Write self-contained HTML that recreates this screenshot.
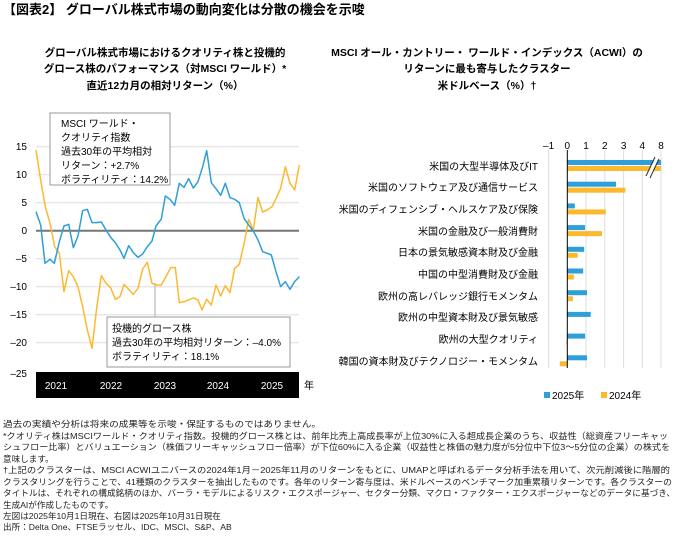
<!DOCTYPE html>
<html><head><meta charset="utf-8"><style>
body{margin:0;background:#fff;width:680px;height:542px;overflow:hidden;font-family:"Liberation Sans","Noto Sans CJK JP",sans-serif;}
svg text{font-family:"Liberation Sans","Noto Sans CJK JP",sans-serif;}
</style></head><body>
<svg width="680" height="542" style="position:absolute;left:0;top:0">
<text x="3" y="14" font-size="13" font-weight="bold" fill="#000">【図表2】 グローバル株式市場の動向変化は分散の機会を示唆</text>
<g font-size="10.5" font-weight="bold" text-anchor="middle" fill="#000">
<text x="165" y="56">グローバル株式市場におけるクオリティ株と投機的</text>
<text x="165" y="72">グロース株のパフォーマンス（対MSCI ワールド）*</text>
<text x="165" y="89">直近12カ月の相対リターン（%）</text>
<text x="487" y="56">MSCI オール・カントリー・ ワールド・インデックス（ACWI）の</text>
<text x="487" y="72">リターンに最も寄与したクラスター</text>
<text x="487" y="89">米ドルベース（%）†</text>
</g>
<g stroke="#ddd" stroke-width="1">
<line x1="36" x2="299" y1="146.7" y2="146.7"/><line x1="36" x2="299" y1="174.7" y2="174.7"/>
<line x1="36" x2="299" y1="202.7" y2="202.7"/><line x1="36" x2="299" y1="258.7" y2="258.7"/>
<line x1="36" x2="299" y1="286.7" y2="286.7"/><line x1="36" x2="299" y1="314.7" y2="314.7"/>
<line x1="36" x2="299" y1="342.7" y2="342.7"/>
</g>
<line x1="36" x2="299" y1="230.7" y2="230.7" stroke="#777" stroke-width="2"/>
<g font-size="10" text-anchor="end" fill="#000">
<text x="27" y="150">15</text><text x="27" y="178">10</text><text x="27" y="206">5</text>
<text x="27" y="234">0</text><text x="27" y="262">–5</text><text x="27" y="290">–10</text>
<text x="27" y="318">–15</text><text x="27" y="346">–20</text><text x="27" y="377">–25</text>
</g>
<rect x="36" y="372" width="263" height="26" fill="#000"/>
<g font-size="10" fill="#fff" text-anchor="middle">
<text x="56" y="389">2021</text><text x="111" y="389">2022</text><text x="165" y="389">2023</text><text x="218" y="389">2024</text><text x="272" y="389">2025</text>
</g>
<text x="304" y="389" font-size="10" fill="#000">年</text>
<line x1="155" y1="283" x2="155" y2="317" stroke="#aaa" stroke-width="1"/>
<g transform="translate(0,100) scale(0.33333)" fill="none" stroke-width="4.5" stroke-linejoin="round">
<polyline stroke="#FDB92E" points="108,150 122,240 136,320 150,370 164,440 178,460 192,575 206,512 220,530 234,560 248,620 262,690 276,745 290,625 304,527 318,550 332,563 346,598 360,590 372,553 386,568 400,583 414,565 428,507 442,487 456,550 470,555 484,555 498,530 512,503 526,503 538,608 552,605 566,600 580,594 594,600 606,630 620,598 634,615 648,555 662,588 676,557 690,578 704,505 718,493 732,432 746,358 760,390 774,292 788,336 802,330 816,320 830,292 842,265 856,200 870,250 884,270 898,195"/>
<polyline stroke="#2E9FD8" points="108,335 122,375 135,490 150,478 163,490 178,425 192,378 206,373 220,443 234,408 248,332 262,328 276,368 290,368 304,366 318,390 332,412 346,428 360,450 372,475 386,437 400,458 414,472 428,462 442,440 456,423 468,378 484,357 496,288 510,298 524,316 538,250 552,262 566,236 580,264 594,245 608,200 620,152 634,248 648,266 662,286 676,250 690,293 704,298 718,308 732,355 746,375 760,393 774,420 788,455 802,460 814,465 828,515 842,560 856,545 870,568 884,545 898,530"/>
</g>
<rect x="50" y="113" width="120" height="72" fill="#fff" stroke="#999" stroke-width="1"/>
<g font-size="10" fill="#000">
<text x="61" y="127">MSCI ワールド・</text><text x="61" y="141">クオリティ指数</text>
<text x="61" y="155">過去30年の平均相対</text><text x="61" y="169">リターン：+2.7%</text>
<text x="61" y="183">ボラティリティ：14.2%</text>
</g>
<rect x="107" y="317" width="183" height="50" fill="#fff" stroke="#999" stroke-width="1"/>
<g font-size="10" fill="#000">
<text x="112" y="332">投機的グロース株</text>
<text x="112" y="346">過去30年の平均相対リターン：–4.0%</text>
<text x="112" y="360">ボラティリティ：18.1%</text>
</g>
<g stroke="#ddd" stroke-width="1">
<line x1="548.6" x2="548.6" y1="150" y2="368"/><line x1="586" x2="586" y1="150" y2="368"/>
<line x1="604.8" x2="604.8" y1="150" y2="368"/><line x1="623.6" x2="623.6" y1="150" y2="368"/>
<line x1="642.3" x2="642.3" y1="150" y2="368"/><line x1="661" x2="661" y1="150" y2="368"/>
</g>
<g font-size="10" text-anchor="middle" fill="#000">
<text x="548.6" y="149">–1</text><text x="567.3" y="149">0</text><text x="586" y="149">1</text>
<text x="604.8" y="149">2</text><text x="623.6" y="149">3</text><text x="642.3" y="149">4</text><text x="661" y="149">8</text>
</g>
<g>
<rect x="567.3" y="160" width="93.7" height="5" fill="#2E9FD8"/><rect x="567.3" y="166" width="93.7" height="5" fill="#FDB92E"/>
<rect x="567.3" y="181.7" width="48.7" height="5" fill="#2E9FD8"/><rect x="567.3" y="187.7" width="58.1" height="5" fill="#FDB92E"/>
<rect x="567.3" y="203.4" width="7.5" height="5" fill="#2E9FD8"/><rect x="567.3" y="209.4" width="38.4" height="5" fill="#FDB92E"/>
<rect x="567.3" y="225.1" width="17.8" height="5" fill="#2E9FD8"/><rect x="567.3" y="231.1" width="34.7" height="5" fill="#FDB92E"/>
<rect x="567.3" y="246.8" width="16.9" height="5" fill="#2E9FD8"/><rect x="567.3" y="252.8" width="10.3" height="5" fill="#FDB92E"/>
<rect x="567.3" y="268.5" width="15.9" height="5" fill="#2E9FD8"/><rect x="567.3" y="274.5" width="6.6" height="5" fill="#FDB92E"/>
<rect x="567.3" y="290.2" width="19.7" height="5" fill="#2E9FD8"/><rect x="567.3" y="296.2" width="5.6" height="5" fill="#FDB92E"/>
<rect x="567.3" y="311.9" width="23.4" height="5" fill="#2E9FD8"/>
<rect x="567.3" y="333.6" width="17.8" height="5" fill="#2E9FD8"/><rect x="566.4" y="339.6" width="0.9" height="5" fill="#FDB92E"/>
<rect x="567.3" y="355.3" width="19.7" height="5" fill="#2E9FD8"/><rect x="559.8" y="361.3" width="7.5" height="5" fill="#FDB92E"/>
</g>
<line x1="567.3" x2="567.3" y1="150" y2="368" stroke="#000" stroke-width="1"/>
<g stroke="#fff" stroke-width="3"><line x1="648" y1="177" x2="657" y2="158"/></g>
<g stroke="#333" stroke-width="1"><line x1="646" y1="176" x2="655" y2="157"/><line x1="650" y1="178" x2="659" y2="159"/></g>
<g font-size="10" text-anchor="end" fill="#000">
<text x="538" y="170">米国の大型半導体及びIT</text>
<text x="538" y="191">米国のソフトウェア及び通信サービス</text>
<text x="538" y="213">米国のディフェンシブ・ヘルスケア及び保険</text>
<text x="538" y="235">米国の金融及び一般消費財</text>
<text x="538" y="256">日本の景気敏感資本財及び金融</text>
<text x="538" y="278">中国の中型消費財及び金融</text>
<text x="538" y="300">欧州の高レバレッジ銀行モメンタム</text>
<text x="538" y="321">欧州の中型資本財及び景気敏感</text>
<text x="538" y="343">欧州の大型クオリティ</text>
<text x="538" y="365">韓国の資本財及びテクノロジー・モメンタム</text>
</g>
<rect x="544" y="392" width="6" height="6" fill="#2E9FD8"/>
<text x="552" y="399" font-size="10" fill="#000">2025年</text>
<rect x="601" y="392" width="6" height="6" fill="#FDB92E"/>
<text x="609" y="399" font-size="10" fill="#000">2024年</text>
<g font-size="8.6" fill="#222">
<text x="3" y="427" textLength="318" lengthAdjust="spacingAndGlyphs">過去の実績や分析は将来の成果等を示唆・保証するものではありません。</text>
<text x="3" y="439" textLength="665" lengthAdjust="spacingAndGlyphs">*クオリティ株はMSCIワールド・クオリティ指数。投機的グロース株とは、前年比売上高成長率が上位30%に入る超成長企業のうち、収益性（総資産フリーキャッ</text>
<text x="3" y="450" textLength="667" lengthAdjust="spacingAndGlyphs">シュフロー比率）とバリュエーション（株価フリーキャッシュフロー倍率）が下位60%に入る企業（収益性と株価の魅力度が5分位中下位3～5分位の企業）の株式を</text>
<text x="3" y="462">意味します。</text>
<text x="3" y="473" textLength="667" lengthAdjust="spacingAndGlyphs">†上記のクラスターは、MSCI ACWIユニバースの2024年1月－2025年11月のリターンをもとに、UMAPと呼ばれるデータ分析手法を用いて、次元削減後に階層的</text>
<text x="3" y="485" textLength="669" lengthAdjust="spacingAndGlyphs">クラスタリングを行うことで、41種類のクラスターを抽出したものです。各年のリターン寄与度は、米ドルベースのベンチマーク加重累積リターンです。各クラスターの</text>
<text x="3" y="496" textLength="672" lengthAdjust="spacingAndGlyphs">タイトルは、それぞれの構成銘柄のほか、バーラ・モデルによるリスク・エクスポージャー、セクター分類、マクロ・ファクター・エクスポージャーなどのデータに基づき、</text>
<text x="3" y="508">生成AIが作成したものです。</text>
<text x="3" y="519">左図は2025年10月1日現在、右図は2025年10月31日現在</text>
<text x="3" y="530">出所：Delta One、FTSEラッセル、IDC、MSCI、S&amp;P、AB</text>
</g>
</svg>
</body></html>
